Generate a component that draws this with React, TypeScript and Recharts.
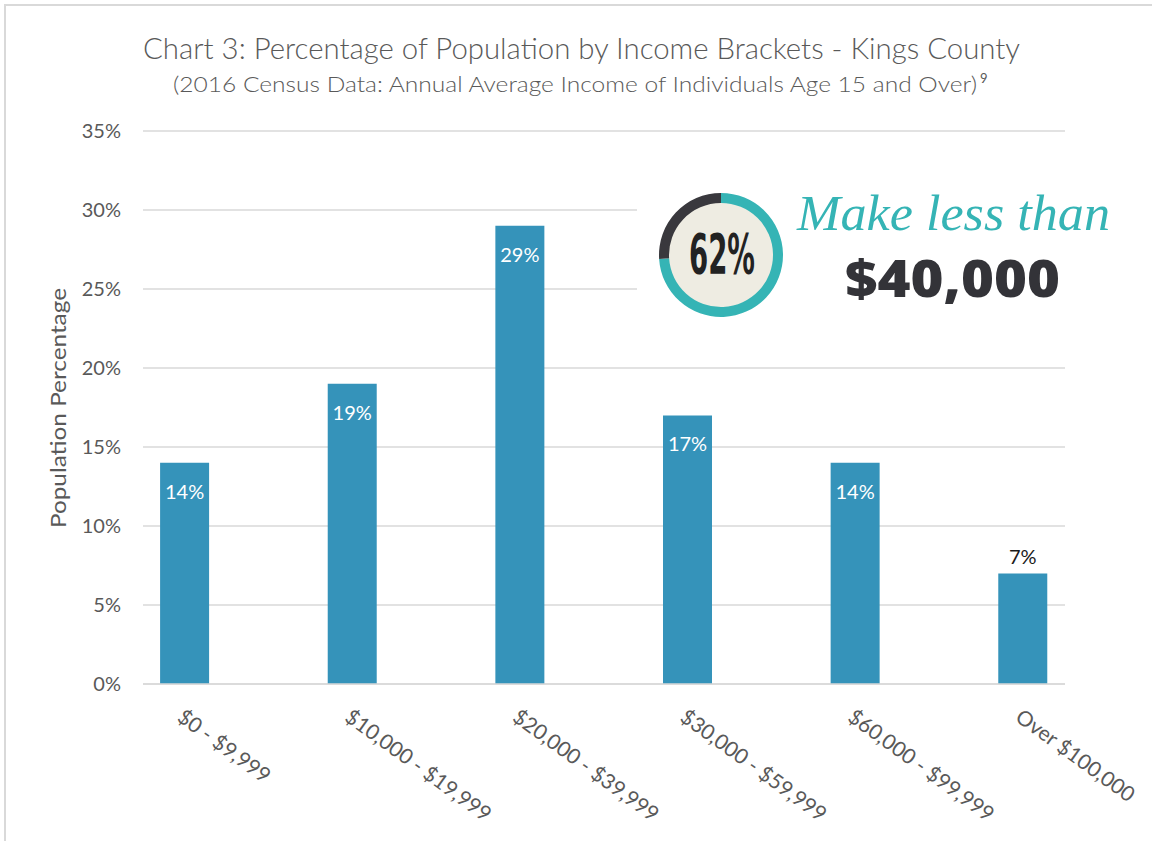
import React from "react";
import { BarChart, Bar, XAxis, YAxis, CartesianGrid, LabelList, PieChart, Pie, Cell } from "recharts";

const categories = [
  "$0 - $9,999",
  "$10,000 - $19,999",
  "$20,000 - $39,999",
  "$30,000 - $59,999",
  "$60,000 - $99,999",
  "Over $100,000",
];
const percentages = [14, 19, 29, 17, 14, 7];
const yTicks = [0, 5, 10, 15, 20, 25, 30, 35];

// ring split as it is drawn in the callout graphic (teal, dark)
const ringShares = [74, 26];
const ringColors = ["#35b4b5", "#39383d"];

const FONT = "Lato, 'Open Sans', sans-serif";
const BAR_COLOR = "#3593ba";
const GRID = "#d9d9d9";
const TEXT = "#595959";

const data = categories.map((bracket, i) => ({ idx: i, bracket, pct: percentages[i] }));
const ringData = ringShares.map((value, i) => ({ name: i === 0 ? "teal" : "dark", value }));

const XTick = (props: any) => {
  const { x, y, payload } = props;
  return (
    <g transform={`translate(${x},${y})`}>
      <text
        x={-9}
        y={36}
        transform="rotate(36 -9 36)"
        textAnchor="start"
        fill={TEXT}
        fontSize={21}
        fontFamily={FONT}
      >
        {categories[payload.value]}
      </text>
    </g>
  );
};

const BarValueLabel = (props: any) => {
  const { x, y, width, value } = props;
  const inside = value >= 10;
  return (
    <text
      x={x + width / 2}
      y={inside ? y + 28 : y - 17}
      textAnchor="middle"
      dominantBaseline="central"
      fill={inside ? "#ffffff" : "#1a1a1a"}
      fontSize={20}
      fontFamily={FONT}
    >
      {value}%
    </text>
  );
};

export default function App() {
  return (
    <div style={{ position: "absolute", left: 0, top: 0, width: 1152, height: 841, background: "#fff" }}>
      <BarChart width={1152} height={841} data={data} margin={{ top: 131, right: 87, left: 0, bottom: 0 }}>
        <CartesianGrid vertical={false} stroke={GRID} strokeWidth={1.5} />
        <XAxis
          dataKey="idx"
          type="number"
          domain={[-0.25, 5.25]}
          ticks={categories.map((_, i) => i)}
          interval={0}
          height={157}
          tickLine={false}
          tickSize={0}
          tickMargin={0}
          axisLine={{ stroke: GRID, strokeWidth: 1.5 }}
          tick={<XTick />}
        />
        <YAxis
          domain={[0, 35]}
          ticks={yTicks}
          tickFormatter={(v: number) => `${v}%`}
          width={143}
          axisLine={false}
          tickLine={false}
          tickSize={0}
          tickMargin={22}
          tick={{ fill: TEXT, fontSize: 20, fontFamily: FONT }}
        />
        <Bar dataKey="pct" fill={BAR_COLOR} barSize={49} isAnimationActive={false}>
          <LabelList dataKey="pct" content={<BarValueLabel />} />
        </Bar>
      </BarChart>

      <svg
        width={1152}
        height={841}
        style={{ position: "absolute", left: 0, top: 0, pointerEvents: "none" }}
      >
        <line x1={4} y1={5} x2={1152} y2={5} stroke={GRID} strokeWidth={2} />
        <line x1={5} y1={4} x2={5} y2={841} stroke={GRID} strokeWidth={2} />

        <text x={143} y={59} fill={TEXT} fontSize={29} fontWeight={300} fontFamily={FONT} textLength={877} lengthAdjust="spacingAndGlyphs">
          Chart 3: Percentage of Population by Income Brackets - Kings County
        </text>
        <text x={173} y={92} fill={TEXT} fontSize={21} fontWeight={300} fontFamily={FONT} textLength={804} lengthAdjust="spacingAndGlyphs">
          (2016 Census Data: Annual Average Income of Individuals Age 15 and Over)
        </text>
        <text x={980} y={83} fill={TEXT} fontSize={13} fontFamily={FONT}>
          9
        </text>

        <text
          x={57}
          y={408}
          transform="rotate(-90 57 408)"
          textAnchor="middle"
          dominantBaseline="central"
          fill={TEXT}
          fontSize={22}
          fontFamily={FONT}
          textLength={240}
          lengthAdjust="spacingAndGlyphs"
        >
          Population Percentage
        </text>

        <rect x={637} y={168} width={480} height={165} fill="#ffffff" />
        <circle cx={720.5} cy={254.5} r={54} fill="#eeece2" />
        <text
          x={722}
          y={273}
          textAnchor="middle"
          fill="#222222"
          fontSize={55}
          fontWeight="bold"
          fontFamily="'DejaVu Sans Condensed', 'DejaVu Sans', sans-serif"
          textLength={66}
          lengthAdjust="spacingAndGlyphs"
        >
          62%
        </text>
        <text
          x={797}
          y={230}
          fill="#35b4b5"
          fontSize={50}
          fontStyle="italic"
          fontFamily="'Liberation Serif', serif"
          textLength={313}
          lengthAdjust="spacingAndGlyphs"
        >
          Make less than
        </text>
        <text
          x={845}
          y={297}
          fill="#333338"
          fontSize={52}
          fontWeight={800}
          fontFamily="'Open Sans', sans-serif"
          textLength={215}
          lengthAdjust="spacingAndGlyphs"
        >
          $40,000
        </text>
      </svg>

      <div style={{ position: "absolute", left: 650.5, top: 184.5, width: 140, height: 140 }}>
        <PieChart width={140} height={140} margin={{ top: 0, right: 0, bottom: 0, left: 0 }}>
          <Pie
            data={ringData}
            dataKey="value"
            cx={70}
            cy={70}
            innerRadius={52}
            outerRadius={62}
            startAngle={90}
            endAngle={-270}
            stroke="none"
            isAnimationActive={false}
          >
            {ringData.map((d, i) => (
              <Cell key={d.name} fill={ringColors[i]} />
            ))}
          </Pie>
        </PieChart>
      </div>
    </div>
  );
}
